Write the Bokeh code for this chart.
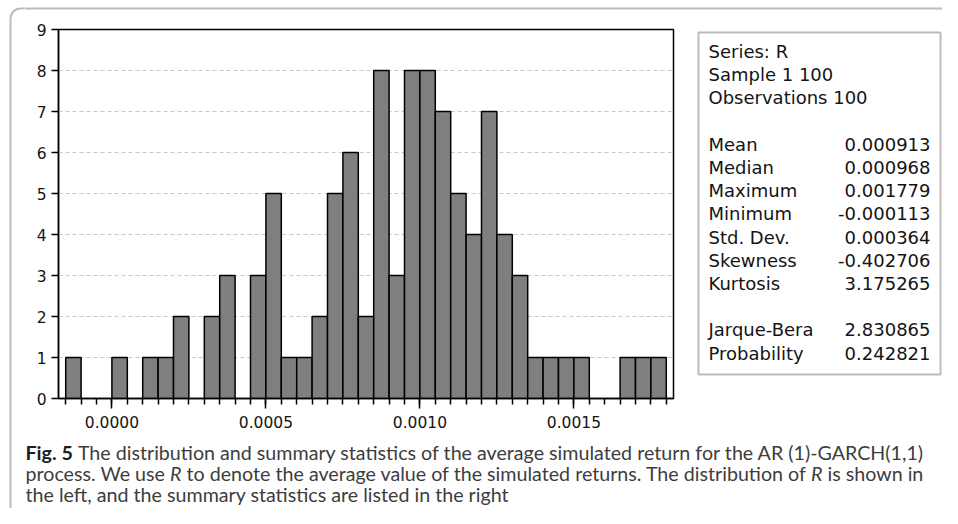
import glob
import os
import numpy as np
from bokeh.plotting import figure
from bokeh.layouts import row, column
from bokeh.models import Range1d, FixedTicker, PrintfTickFormatter, Label, BoxAnnotation
from bokeh.embed import file_html
from bokeh.resources import INLINE

# ---------------- data ----------------
bin_start = -0.00015
bin_width = 0.00005
counts = [1, 0, 0, 1, 0, 1, 1, 2, 0, 2, 3, 0, 3, 5, 1, 1, 2, 5, 6, 2,
          8, 3, 8, 8, 7, 5, 4, 7, 4, 3, 1, 1, 1, 1, 0, 0, 1, 1, 1]
x_major_ticks = [0.0, 0.0005, 0.0010, 0.0015]
y_ticks = [0, 1, 2, 3, 4, 5, 6, 7, 8, 9]
header_lines = ["Series: R", "Sample 1 100", "Observations 100"]
stat_names = ["Mean", "Median", "Maximum", "Minimum", "Std. Dev.", "Skewness", "Kurtosis"]
stat_values = ["0.000913", "0.000968", "0.001779", "-0.000113", "0.000364", "-0.402706", "3.175265"]
test_names = ["Jarque-Bera", "Probability"]
test_values = ["2.830865", "0.242821"]
caption_bold = "Fig. 5"
caption_line1 = "The distribution and summary statistics of the average simulated return for the AR (1)-GARCH(1,1)"
caption_line2 = [("process. We use ", "normal"), ("R", "italic"),
                 (" to denote the average value of the simulated returns. The distribution of ", "normal"),
                 ("R", "italic"), (" is shown in", "normal")]
caption_line3 = "the left, and the summary statistics are listed in the right"

# ---------------- layout (page pixel coordinates) ----------------
W, H = 942, 508
LW = 24            # left strip width
TH = 12            # top strip height
MID_B = 438        # bottom of middle row
SPLIT = 690        # hist | stats split
FRAME = (58, 673, 29, 398)   # left, right, top, bottom of histogram frame

OUTER = dict(left=10, right=1000, top=8, bottom=521)
LINE = "#222222"
BASE_SHIFT = 0.39   # label baseline correction, in em


def deco_fig(x0, x1, y0, y1, border_top=0, border_bottom=0, fy0=None, fy1=None):
    fy0 = y0 if fy0 is None else fy0
    fy1 = y1 if fy1 is None else fy1
    f = figure(width=int(x1 - x0), height=int(y1 - y0), x_range=Range1d(x0, x1),
               y_range=Range1d(fy1, fy0), output_backend="svg", toolbar_location=None,
               x_axis_type=None, y_axis_type=None, min_border_left=0, min_border_right=0,
               min_border_top=border_top, min_border_bottom=border_bottom)
    f.outline_line_color = None
    f.background_fill_color = "white"
    f.border_fill_color = "white"
    return f


def outer_box(f):
    f.add_layout(BoxAnnotation(fill_color=None, fill_alpha=0, line_color=LINE, line_width=2,
                               border_radius=10, **OUTER))


def add_label(f, x, y, text, size, font, align="left", style="normal", color="#141414"):
    f.add_layout(Label(x=x, y=y - BASE_SHIFT * size, text=text, text_font=font,
                       text_font_size=f"{size:.2f}px", text_align=align,
                       text_baseline="alphabetic", text_font_style=style, text_color=color))


# left strip and top strip carry the outer rounded frame
left_strip = deco_fig(0, LW, 0, H)
outer_box(left_strip)
top_strip = deco_fig(LW, W, 0, TH)
outer_box(top_strip)

# ---------------- histogram ----------------
edges = bin_start + bin_width * np.arange(len(counts) + 1)
cnt = np.array(counts)
mask = cnt > 0
pad = 0.0000234

fl, fr, ft, fb = FRAME
p = figure(width=SPLIT - LW, height=MID_B - TH, output_backend="svg", toolbar_location=None,
           x_range=Range1d(edges[0] - pad, edges[-1] + pad), y_range=Range1d(0, 9),
           min_border_left=fl - LW, min_border_right=SPLIT - fr,
           min_border_top=ft - TH, min_border_bottom=MID_B - fb)
p.background_fill_color = "white"
p.border_fill_color = "white"
p.outline_line_color = "black"
p.outline_line_width = 1.5
p.outline_line_alpha = 1.0

p.xgrid.visible = False
p.ygrid.ticker = FixedTicker(ticks=y_ticks[1:-1])
p.ygrid.grid_line_color = "#cdc6cd"
p.ygrid.grid_line_dash = "4 3"
p.ygrid.grid_line_width = 1

p.quad(left=edges[:-1][mask], right=edges[1:][mask], bottom=0, top=cnt[mask],
       fill_color="#7f7f7f", line_color="black", line_width=1.5)

tick_font = "DejaVu Sans"
p.xaxis.ticker = FixedTicker(ticks=x_major_ticks, minor_ticks=list(edges))
p.xaxis.formatter = PrintfTickFormatter(format="%.4f")
p.yaxis.ticker = FixedTicker(ticks=y_ticks)
for ax in (p.xaxis[0], p.yaxis[0]):
    ax.axis_line_color = "black"
    ax.axis_line_width = 1.5
    ax.major_tick_line_color = "black"
    ax.major_tick_line_width = 1.5
    ax.minor_tick_line_color = "black"
    ax.minor_tick_line_width = 1.5
    ax.major_tick_in = 0
    ax.minor_tick_in = 0
    ax.major_label_text_font = tick_font
    ax.major_label_text_font_size = "15.5px"
    ax.major_label_text_color = "#141414"
p.xaxis.major_tick_out = 10
p.xaxis.minor_tick_out = 6
p.xaxis.major_label_standoff = 7
p.yaxis.major_tick_out = 7
p.yaxis.minor_tick_line_color = None
p.yaxis.major_label_standoff = 5

# ---------------- stats panel (frame aligned with the histogram frame) ----------------
stats = deco_fig(SPLIT, W, TH, MID_B, border_top=ft - TH, border_bottom=MID_B - fb, fy0=ft, fy1=fb)
stats.add_layout(BoxAnnotation(left=698, right=940, top=32, bottom=374, fill_color=None,
                               fill_alpha=0, line_color=LINE, line_width=2))
stat_font = "DejaVu Sans"
stat_size = 18
row0, pitch = 58, 23.2
lx, rx = 708, 930
for i, t in enumerate(header_lines):
    add_label(stats, lx, row0 + pitch * i, t, stat_size, stat_font)
for i, (n, v) in enumerate(zip(stat_names, stat_values)):
    add_label(stats, lx, row0 + pitch * (4 + i), n, stat_size, stat_font)
    add_label(stats, rx, row0 + pitch * (4 + i), v, stat_size, stat_font, align="right")
for i, (n, v) in enumerate(zip(test_names, test_values)):
    add_label(stats, lx, row0 + pitch * (12 + i), n, stat_size, stat_font)
    add_label(stats, rx, row0 + pitch * (12 + i), v, stat_size, stat_font, align="right")


# ---------------- caption ----------------
def find_font(patterns):
    dirs = ["/usr/share/fonts", "/usr/local/share/fonts",
            os.path.expanduser("~/.fonts"), os.path.expanduser("~/.local/share/fonts")]
    for pat in patterns:
        for d in dirs:
            hits = glob.glob(os.path.join(d, "**", pat), recursive=True)
            if hits:
                return sorted(hits)[0]
    return None


cap_font = "Lato"
font_files = {
    "normal": find_font(["Lato-Regular.ttf", "Lato-Regular.otf"]),
    "bold": find_font(["Lato-Bold.ttf", "Lato-Bold.otf"]),
    "italic": find_font(["Lato-Italic.ttf", "Lato-Italic.otf"]),
}
_cache = {}


def text_width(text, style, size):
    path = font_files.get(style) or font_files.get("normal")
    if path:
        try:
            from PIL import ImageFont
            if path not in _cache:
                _cache[path] = ImageFont.truetype(path, 100)
            return _cache[path].getlength(text) * size / 100.0
        except Exception:
            pass
    return len(text) * 0.47 * size


cap = deco_fig(LW, W, MID_B, H)
cx = 25
w1 = text_width(caption_bold, "bold", 1) + text_width(" ", "normal", 1) + text_width(caption_line1, "normal", 1)
w2 = sum(text_width(s, st, 1) for s, st in caption_line2)
cap_size = 0.5 * (893 / w1 + 903 / w2)
cap_color = "#3d3d3d"

b1, b2, b3 = 460, 481, 502
add_label(cap, cx, b1, caption_bold, cap_size, cap_font, style="bold", color="#1e1e1e")
add_label(cap, cx + text_width(caption_bold, "bold", cap_size) + text_width(" ", "normal", cap_size),
          b1, caption_line1, cap_size, cap_font, color=cap_color)
xpos = cx
for seg, st in caption_line2:
    lead = len(seg) - len(seg.lstrip(" "))
    add_label(cap, xpos + text_width(" " * lead, "normal", cap_size), b2, seg.strip(" "), cap_size,
              cap_font, style=st, color=cap_color)
    xpos += text_width(seg, st, cap_size)
add_label(cap, cx, b3, caption_line3, cap_size, cap_font, color=cap_color)

layout = row(left_strip, column(top_strip, row(p, stats), cap))
open("out.html", "w").write(file_html(layout, INLINE))
